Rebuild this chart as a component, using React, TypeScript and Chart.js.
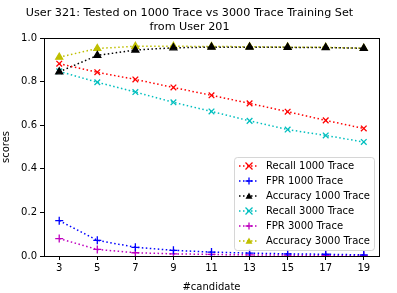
import React, { useEffect, useRef } from "react";
import { Chart, registerables } from "chart.js";

Chart.register(...registerables);

const candidates = [3, 5, 7, 9, 11, 13, 15, 17, 19];
const recall1000 = [0.882, 0.843, 0.81, 0.773, 0.737, 0.7, 0.662, 0.622, 0.585];
const fpr1000 = [0.162, 0.072, 0.04, 0.026, 0.018, 0.013, 0.01, 0.008, 0.005];
const accuracy1000 = [0.845, 0.92, 0.945, 0.955, 0.958, 0.958, 0.957, 0.956, 0.953];
const recall3000 = [0.847, 0.797, 0.752, 0.705, 0.663, 0.62, 0.58, 0.553, 0.523];
const fpr3000 = [0.08, 0.03, 0.015, 0.01, 0.007, 0.005, 0.004, 0.003, 0.002];
const accuracy3000 = [0.912, 0.952, 0.962, 0.962, 0.961, 0.96, 0.958, 0.957, 0.953];
const yTicks = [0, 0.2, 0.4, 0.6, 0.8, 1.0];

const FONT = "'DejaVu Sans', sans-serif";

const series = [
  { label: "Recall 1000 Trace", data: recall1000, color: "#ff0000", style: "crossRot" },
  { label: "FPR 1000 Trace", data: fpr1000, color: "#0000ff", style: "cross" },
  { label: "Accuracy 1000 Trace", data: accuracy1000, color: "#000000", style: "triangle" },
  { label: "Recall 3000 Trace", data: recall3000, color: "#00bfbf", style: "crossRot" },
  { label: "FPR 3000 Trace", data: fpr3000, color: "#bf00bf", style: "cross" },
  { label: "Accuracy 3000 Trace", data: accuracy3000, color: "#bfbf00", style: "triangle" },
];

function drawMarker(ctx: CanvasRenderingContext2D, style: string, x: number, y: number, r: number, color: string) {
  ctx.save();
  ctx.strokeStyle = color;
  ctx.fillStyle = color;
  ctx.lineWidth = 1.3;
  ctx.setLineDash([]);
  ctx.beginPath();
  if (style === "crossRot") {
    ctx.moveTo(x - r, y - r); ctx.lineTo(x + r, y + r);
    ctx.moveTo(x + r, y - r); ctx.lineTo(x - r, y + r);
    ctx.stroke();
  } else if (style === "cross") {
    ctx.moveTo(x - r, y); ctx.lineTo(x + r, y);
    ctx.moveTo(x, y - r); ctx.lineTo(x, y + r);
    ctx.stroke();
  } else {
    ctx.moveTo(x, y - r);
    ctx.lineTo(x + r, y + r * 0.8);
    ctx.lineTo(x - r, y + r * 0.8);
    ctx.closePath();
    ctx.fill();
  }
  ctx.restore();
}

const framePlugin = {
  id: "frameAndLegend",
  afterDraw(chart: any) {
    const { ctx, chartArea } = chart;
    const { left, right, top, bottom } = chartArea;
    ctx.save();
    ctx.strokeStyle = "#000";
    ctx.lineWidth = 1;
    ctx.strokeRect(Math.round(left) + 0.5, Math.round(top) + 0.5, Math.round(right - left), Math.round(bottom - top));
    // legend
    const bw = 140, rowH = 15;
    const bh = 93;
    const bx = right - bw - 5;
    const by = bottom - bh - 6;
    ctx.globalAlpha = 0.8;
    ctx.fillStyle = "#fff";
    ctx.strokeStyle = "#cccccc";
    ctx.beginPath();
    (ctx as any).roundRect(Math.round(bx) + 0.5, Math.round(by) + 0.5, bw, bh, 3);
    ctx.fill();
    ctx.stroke();
    ctx.globalAlpha = 1;
    ctx.font = `10px ${FONT}`;
    ctx.textBaseline = "middle";
    series.forEach((s, i) => {
      const yy = by + 9 + i * rowH;
      ctx.strokeStyle = s.color;
      ctx.lineWidth = 1.5;
      ctx.setLineDash([1.5, 2.5]);
      ctx.beginPath();
      ctx.moveTo(bx + 5, yy);
      ctx.lineTo(bx + 25, yy);
      ctx.stroke();
      ctx.setLineDash([]);
      drawMarker(ctx, s.style, bx + 15, yy, 3.5, s.color);
      ctx.fillStyle = "#000";
      ctx.fillText(s.label, bx + 32, yy);
    });
    ctx.restore();
  },
};

export default function App() {
  const ref = useRef<HTMLCanvasElement>(null);
  useEffect(() => {
    document.body.style.margin = "0";
    const chart = new Chart(ref.current!, {
      type: "line",
      data: {
        datasets: series.map((s) => ({
          label: s.label,
          data: s.data.map((v, i) => ({ x: candidates[i], y: v })),
          borderColor: s.color,
          backgroundColor: s.color,
          borderWidth: 1.5,
          borderDash: [1.5, 2.5],
          pointStyle: s.style as any,
          pointRadius: 4,
          pointBorderWidth: 1.3,
          pointBackgroundColor: s.color,
          pointBorderColor: s.color,
          fill: false,
          tension: 0,
        })),
      },
      options: {
        animation: false,
        responsive: false,
        layout: { padding: { left: 0, right: 18, top: 0, bottom: 0 } },
        plugins: {
          legend: { display: false },
          tooltip: { enabled: false },
          title: {
            display: true,
            text: ["User 321: Tested on 1000 Trace vs 3000 Trace Training Set", "from User 201"],
            color: "#000",
            font: { family: FONT, size: 11.2, weight: "normal", lineHeight: 1.25 },
            padding: { top: 6, bottom: 4 },
          },
        },
        scales: {
          x: {
            type: "linear",
            min: 2.2,
            max: 19.8,
            afterBuildTicks: (scale: any) => {
              scale.ticks = candidates.map((v) => ({ value: v }));
            },
            afterFit: (scale: any) => {
              scale.height = 37;
            },
            grid: { display: true, drawOnChartArea: false, tickLength: 4, color: "#000" },
            border: { display: true, color: "#000" },
            ticks: { color: "#000", font: { family: FONT, size: 10 }, padding: 2, maxRotation: 0, autoSkip: false },
            title: { display: true, text: "#candidate", color: "#000", font: { family: FONT, size: 10 }, padding: { top: 2, bottom: 0 } },
          },
          y: {
            type: "linear",
            min: 0,
            max: 1,
            afterBuildTicks: (scale: any) => {
              scale.ticks = yTicks.map((v) => ({ value: v }));
            },
            afterFit: (scale: any) => {
              scale.width = 44;
            },
            grid: { display: true, drawOnChartArea: false, tickLength: 4, color: "#000" },
            border: { display: true, color: "#000" },
            ticks: {
              color: "#000",
              font: { family: FONT, size: 10 },
              padding: 3,
              callback: (v: any) => Number(v).toFixed(1),
            },
            title: { display: true, text: "scores", color: "#000", font: { family: FONT, size: 10 }, padding: 0 },
          },
        },
      },
      plugins: [framePlugin],
    });
    return () => chart.destroy();
  }, []);
  return (
    <div style={{ width: 397, height: 293, background: "#fff" }}>
      <canvas ref={ref} width={397} height={293} style={{ display: "block" }} />
    </div>
  );
}
